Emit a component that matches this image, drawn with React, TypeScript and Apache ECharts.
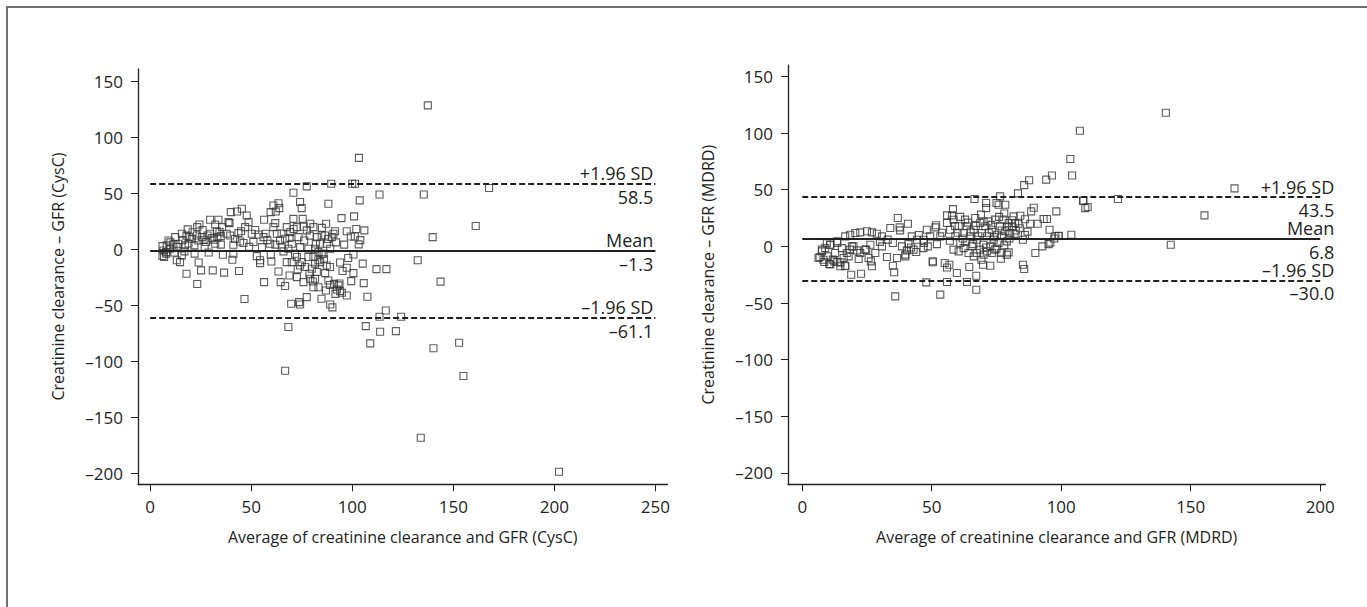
import React, { useEffect, useRef } from 'react';
import * as echarts from 'echarts';

// Bland–Altman: creatinine clearance vs GFR (CysC)
const cyscPoints: [number, number][] = [
  [137.4, 128.3], [103.3, 81.5], [89.6, 58.3], [100, 58.3], [101.4, 58.3], [77.5, 56], [70.9, 50.3], [113.5, 48.8],
  [135.4, 48.8], [139.8, 10.7], [143.7, -29], [132.4, -10], [88.2, 40.5], [103.7, 43.5], [94.7, 27.7], [100.9, 29.2],
  [106, 16.7], [74.2, 42], [75, 36.6], [61, 39], [63.5, 41], [63.9, 36.6], [62.2, 33.6], [59.6, 33], [39.9, 33],
  [43, 33.6], [45.4, 36], [47.8, 30], [23.3, 19.6], [24.4, 22], [18.6, 17.6], [29.7, 26.2], [33.8, 26.2], [32.2, 22],
  [39.3, 23.2], [87.1, 22.6], [91.5, 16], [97.3, 16], [99.3, 11.3], [101.3, 11.3], [103.2, 4.2], [100.6, -4.8],
  [105.2, -13], [112, -17.9], [116.9, -17.9], [105.7, -30.4], [107.5, -42.6], [113.5, -60.4], [116.6, -54.8],
  [124.2, -60.4], [106.7, -68.8], [89, -32], [91, -31], [93.2, -32.4], [92.4, -36], [94, -37.5], [94.9, -39],
  [97.3, -41.4], [93.7, -30.7], [91.7, -40], [87, -37], [88.2, -28], [86.6, -21.4], [89, -16], [87.4, -14.6],
  [95.2, -19.6], [97.3, -16.7], [100.6, -21.4], [99.5, -28.6], [84.8, -44.3], [89.1, -49.4], [90.2, -52], [77.5, -42.9],
  [69.8, -48.8], [73.7, -47.3], [74.2, -49.4], [68.4, -69.6], [56.4, -29.5], [63.5, -20], [64.6, -29.5], [66.8, -33],
  [69, -23.5], [72.6, -25], [75.9, -29.5], [80.5, -28.9], [78.8, -22], [46.7, -44.6], [44, -19.6], [36.6, -21], [31, -19],
  [25.2, -19], [18, -22], [23.3, -31.2], [24, -12], [40.7, -9.5], [41.2, -4.2], [52.8, -6.3], [54.4, -10], [54.4, -12.5],
  [59.7, -5], [6.1, -6.2], [6.9, -7.1], [7.9, -2.7], [13.2, -10], [14.8, -11.6], [15.7, -5.6],
  [6.1, 2.7], [6.6, -1.2], [8.2, 3.3], [9.1, 7.7], [9.9, 0.3], [11.5, 4.2], [12.4, 10.7], [14, 4.8], [15.7, 13.7],
  [17.3, 3.3], [19.5, 10.7], [20.6, 9.2], [21.9, 3.3], [23.1, 12.2], [23.9, 7.7], [25.6, 10.7], [26.4, 8.3], [27.7, 6.3],
  [28.4, 12.2], [29.7, 13.7], [30.5, 9.8], [31.3, 8.3], [32.2, 4.8], [33.3, 10.7], [34.3, 15.2], [35, 11.6], [35.6, 19.6],
  [38.8, 24.1], [37.9, 13.7], [39.6, 12.2], [41.2, 3.9], [43.7, 14.3], [44.5, 6.8], [46.2, 5.4], [47, 19.6], [48.7, 24.1],
  [50.3, 13.7], [51.1, 6.3], [53.6, 13.1], [55.3, 1.8], [56.1, 10.7], [56.4, 26.2], [57.2, 13.7], [59.4, 4.8], [61, 19.6],
  [61.9, 23.2], [62.7, 13.7], [64.3, 7.7], [65.1, 1.8], [66.8, 9.2], [67.6, 19.6], [68.4, 0.3], [69.3, 15.2], [70.1, 4.8],
  [70.9, 27], [71.7, -4.2], [72.6, 19.6], [73.4, 10.7], [74.2, 1.8], [75.5, 27], [76.2, 7.7], [77.5, 16.7], [78.3, 0.3],
  [79.2, 22.6], [80.8, 19.6], [81.6, 0.3], [82.5, 10.7], [83.3, -2.7], [84.1, 4.8], [84.9, 12.2], [85.8, -4.2], [86.6, 12.2],
  [87.4, 4.8], [89.1, 0.3], [89.9, 10.7], [90.7, 13.7], [67.6, -11.6], [70.1, -11.6], [72.6, -7.1], [74.2, -14.6],
  [75, -11.6], [76.7, -16], [78.3, -7.1], [79.2, -26.5], [80, -17.6], [80.8, -7.1], [81.6, -13], [82.5, -20.5], [83.3, -10],
  [84.1, -11.6], [84.9, -4.2], [81.6, -26.5], [83.3, -34], [80.8, -34],
  [8, -4], [10, 6], [12, -3], [13, 2], [16, 8], [17, -2], [18, 12], [19, 5], [21, 15], [22, -4], [26, 17], [27, 2],
  [29, -3], [33, 16], [35, 4], [36, -5], [42, 9], [45, 16], [49, 2], [52, 17], [58, 8], [60, -11], [62, 4], [65, 14],
  [66, -2], [69, 10], [71, 18], [73, -18], [76, 20], [79, 12], [82, 5], [85, 19], [86, -9], [88, 9], [92, 6], [94, -12],
  [96, 4], [98, -8], [102, 18], [104, 8],
  [66.8, -108.6], [108.9, -84.2], [113.8, -73.8], [121.6, -73.2], [140.2, -88.5], [133.9, -168.5], [167.7, 54.5],
  [161.1, 20.6], [152.9, -83.6], [155, -113.3], [202.3, -198.8],
];

// Bland–Altman: creatinine clearance vs GFR (MDRD)
const mdrdPoints: [number, number][] = [
  [107.2, 102.1], [103.5, 77.1], [104.2, 62.6], [96.4, 62.6], [94.2, 58.9], [87.6, 58.3], [85.7, 54.1], [83.3, 46.8],
  [76.4, 44.1], [108.4, 40.3], [109.3, 33.8], [110.2, 34.7], [98.1, 30.9], [93.2, 24.1], [94.5, 24.1], [90.9, 20],
  [89.4, 34.1], [88.4, 30.9], [95.5, 14.7], [90, -5.9], [92.7, 0], [95.1, 2], [97.7, 8.9], [99, 9.4], [103.9, 10.3],
  [85.2, 5.9], [85.2, -16.2], [85.7, -20], [71, 38.3], [71, 33.8], [75, 38.3], [75.8, 36.8], [78.4, 36.8], [66.5, 41.8],
  [58.2, 32.9], [55.9, 27.4], [57.8, 27.4], [58.4, 23.5], [51.7, 18.6], [51.4, 16.8], [53.3, 8.8], [48.1, 14.7],
  [40.8, 20], [36.9, 25], [37.6, 16.8], [37.8, 14.1], [34, 16.2], [50.4, -13.1], [50.4, -14], [55, -14.7], [56.8, -16.2],
  [55.9, -18.6], [55.9, -31.5], [53.3, -42.6], [47.9, -31.8], [35.9, -44.1], [35.5, -22.9], [35, -17.1], [59.7, -23.5],
  [63.6, -31.5], [64.5, -18.2], [67.2, -25.9], [67.2, -38.3], [69.2, -11.8], [69.8, -16.2], [72.6, -17.1], [76.7, -10.9],
  [79, -7.3], [79.7, -5.3], [76.7, -5.9], [18.9, -25], [22.7, -24.1], [6.7, -9.4], [8.2, -11.8], [10.4, -15.6],
  [12.4, -13.2], [14.7, -14.1], [16.6, -17.6], [7.6, -2.9], [9.5, 2.9], [10.8, 1.5], [13.4, 4.4], [16.6, 8.8], [18.5, 10.3],
  [20.5, 11.8], [22.4, 12.4], [25, 13.3], [26.9, 12.4], [28.8, 11.2], [30.8, 8.8], [15.3, -1.5], [17.2, -5.9], [19.2, 0],
  [21.1, -3.5], [24.3, -2.9], [26.3, 1.5], [28.2, -5.9], [30.8, 0], [32.7, -9.4], [36.6, -10.3], [38.5, 0], [40.4, -3.5],
  [42.3, 8.8], [43, -2.9], [39.8, -7.3], [39.8, -8.8], [44.3, 5.9], [46.8, 5.9], [49.4, 8.8], [46.8, -1.5], [48.5, 0],
  [55.9, 20.6], [57.1, 14.7], [59.1, 8.9], [60.4, 17.7], [61, 3], [62.3, 11.8], [62.9, 23.6], [63.6, 17.7], [64.9, 8.9],
  [65.5, 0], [66.2, 14.7], [66.8, 25], [67.4, 5.9], [68.7, 20.6], [69.4, 11.8], [70, 1.5], [70.7, 17.7], [71.3, 8.9],
  [71.9, 22.1], [72.6, 0], [73.2, 14.7], [73.9, 5.9], [74.5, 23.6], [75.2, 10.3], [75.8, 3], [76.4, 17.7], [77.1, 8.9],
  [77.7, 23.6], [78.4, 13.3], [79, 4.4], [79.7, 20.6], [80.3, 11.8], [81, 17.7], [81.6, 26.5], [82.2, 20.6],
  [58.4, -2.9], [60.4, -4.4], [62.3, -1.5], [64.2, -5.9], [66.2, -8.8], [67.4, -5.9], [68.7, -2.9], [70, -7.3],
  [71.3, -4.4], [73.2, -5.9], [74.5, -2.9], [83.5, 20], [84.2, 27], [82.5, 14], [86, 10],
  [6.3, -10.3], [7.6, -4.4], [8.5, -13.8], [9.8, -8.8], [10.8, -15.9], [11.8, -11.7], [12.7, -5.9], [13.6, -13.8],
  [14.7, -17.6], [16, -10.3], [16.6, -17.1], [17.9, -8.8], [18.5, -2.9], [10.8, 1.5], [8.9, -1.4], [13.6, 3], [19.8, 0],
  [21.8, -11.2], [22.4, -5.9], [24.7, -2.9], [25.6, -10.3], [26.5, -13.2], [26.9, -17.6],
  [57, 5], [59, 18], [61, 26], [62, 7], [64, 21], [65, 13], [67, 18], [68, 9], [69, 28], [70, 22], [72, 12], [73, 19],
  [74, 8], [76, 26], [77, 14], [78, 29], [79, 17], [80, 7], [81, 23], [82, 11], [84, 16], [86, 24], [87, 13], [88, 20],
  [60, 12], [63, 4], [66, 2], [71, -1], [75, -2], [78, 1], [30, 4], [33, 6], [35, 3], [41, 2], [44, -5], [45, 10],
  [47, 3], [52, 2], [54, 12], [42, -1],
  [140.4, 118], [166.9, 51.2], [155.3, 27.4], [121.9, 41.8], [108.6, 40.3], [142.3, 1.5], [99, 9.2], [97.3, 6.9], [95.8, 3.3],
];

const cyscLimits = [58.5, -1.3, -61.1];
const mdrdLimits = [43.5, 6.8, -30.0];
const limitNames = ['+1.96 SD', 'Mean', '\u20131.96 SD'];

const cyscXTicks = [0, 50, 100, 150, 200, 250];
const mdrdXTicks = [0, 50, 100, 150, 200];
const yTicks = [-200, -150, -100, -50, 0, 50, 100, 150];

const cyscXName = 'Average of creatinine clearance and GFR (CysC)';
const cyscYName = 'Creatinine clearance \u2013 GFR (CysC)';
const mdrdXName = 'Average of creatinine clearance and GFR (MDRD)';
const mdrdYName = 'Creatinine clearance \u2013 GFR (MDRD)';

const INK = '#231f20';
const FONT = 'Open Sans';

const fmtTick = (v: number) => (v < 0 ? '\u2013' + Math.abs(v) : String(v));
const fmtVal = (v: number) => (v < 0 ? '\u2013' + Math.abs(v).toFixed(1) : v.toFixed(1));

function limitMarkLines(values: number[], xEnd: number, dx: number, dTop: number, dBottom: number) {
  const data: any[] = [];
  const labelBase = { show: true, fontSize: 18, lineHeight: 16, color: INK, fontFamily: FONT };
  values.forEach((v, i) => {
    const isMean = i === 1;
    data.push([
      {
        coord: [0, v],
        lineStyle: { color: INK, width: 2, type: isMean ? 'solid' : [6, 3] },
        label: { ...labelBase, position: 'insideEndTop', formatter: limitNames[i], distance: [dx, dTop] },
      },
      { coord: [xEnd, v] },
    ]);
    data.push([
      {
        coord: [0, v],
        lineStyle: { color: 'rgba(0,0,0,0)', width: 1, type: 'solid' },
        label: { ...labelBase, position: 'insideEndBottom', formatter: fmtVal(v), distance: [dx, dBottom] },
      },
      { coord: [xEnd, v] },
    ]);
  });
  return {
    silent: true,
    symbol: ['none', 'none'],
    animation: false,
    data,
  };
}

function xAxisCfg(gridIndex: number, min: number, max: number, ticks: number[], name: string) {
  return {
    type: 'value',
    gridIndex,
    min,
    max,
    name,
    nameLocation: 'middle',
    nameGap: 45,
    nameTextStyle: { fontSize: 16, color: INK, fontFamily: FONT },
    axisLine: { show: true, onZero: false, lineStyle: { color: INK, width: 1.3 } },
    axisTick: { show: true, length: 7, customValues: ticks, lineStyle: { color: INK, width: 1 } },
    axisLabel: { customValues: ticks, formatter: fmtTick, fontSize: 17, color: INK, fontFamily: FONT, margin: 14 },
    splitLine: { show: false },
  };
}

function yAxisCfg(gridIndex: number, min: number, max: number, name: string) {
  return {
    type: 'value',
    gridIndex,
    min,
    max,
    name,
    nameLocation: 'middle',
    nameGap: 72,
    nameRotate: 90,
    nameTextStyle: { fontSize: 16, color: INK, fontFamily: FONT },
    axisLine: { show: true, onZero: false, lineStyle: { color: INK, width: 1.3 } },
    axisTick: { show: true, length: 7, customValues: yTicks, lineStyle: { color: INK, width: 1 } },
    axisLabel: { customValues: yTicks, formatter: fmtTick, fontSize: 17, color: INK, fontFamily: FONT, margin: 15 },
    splitLine: { show: false },
  };
}

export default function App() {
  const ref = useRef<HTMLDivElement>(null);

  useEffect(() => {
    if (!ref.current) return;
    const chart = echarts.init(ref.current, undefined, { renderer: 'svg' });
    const symbolStyle = { color: 'rgba(0,0,0,0)', borderColor: '#333', borderWidth: 1.1 };
    chart.setOption({
      animation: false,
      backgroundColor: '#fff',
      textStyle: { fontFamily: FONT },
      graphic: [
        {
          type: 'rect',
          shape: { x: 7, y: 7, width: 1420, height: 700 },
          style: { fill: 'none', stroke: '#6d6e71', lineWidth: 2 },
          silent: true,
        },
      ],
      grid: [
        { left: 138, top: 68.8, width: 529.5, height: 415.5 },
        { left: 788, top: 65.1, width: 537.4, height: 419.2 },
      ],
      xAxis: [
        xAxisCfg(0, -6, 256, cyscXTicks, cyscXName),
        xAxisCfg(1, -5.5, 202, mdrdXTicks, mdrdXName),
      ],
      yAxis: [yAxisCfg(0, -210, 161, cyscYName), yAxisCfg(1, -210, 160, mdrdYName)],
      series: [
        {
          type: 'scatter',
          xAxisIndex: 0,
          yAxisIndex: 0,
          data: cyscPoints,
          symbol: 'rect',
          symbolSize: 7,
          itemStyle: symbolStyle,
          markLine: limitMarkLines(cyscLimits, 250, 2, 3, 5),
          z: 3,
        },
        {
          type: 'scatter',
          xAxisIndex: 1,
          yAxisIndex: 1,
          data: mdrdPoints,
          symbol: 'rect',
          symbolSize: 7,
          itemStyle: symbolStyle,
          markLine: limitMarkLines(mdrdLimits, 200, -14, 2.5, 5),
          z: 3,
        },
      ],
    });
    return () => chart.dispose();
  }, []);

  return (
    <div
      ref={ref}
      style={{ position: 'fixed', left: 0, top: 0, width: 1367, height: 607, background: '#fff' }}
    />
  );
}
